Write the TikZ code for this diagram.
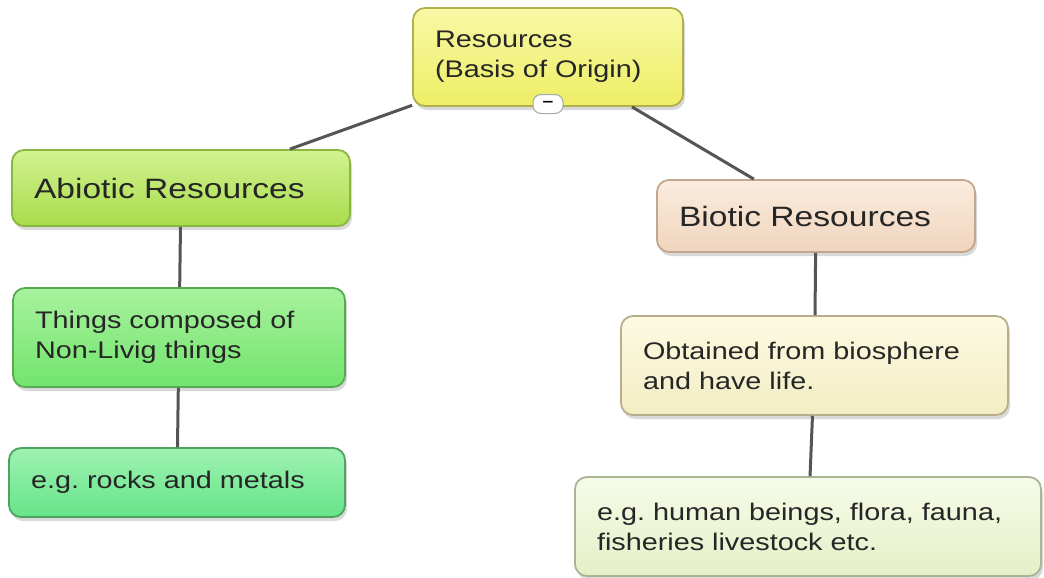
\documentclass[tikz,border=0pt]{standalone}
\usepackage{fontspec}
\setmainfont{Liberation Sans}[FakeStretch=1.2]
\usetikzlibrary{shadows}

\definecolor{txtgray}{HTML}{262626}
\definecolor{linkgray}{HTML}{555555}
% fills (top / bottom) and borders
\definecolor{resTop}{HTML}{F8F8A6}\definecolor{resBot}{HTML}{EEEE66}\definecolor{resLine}{HTML}{B0B04C}
\definecolor{abioTop}{HTML}{D2F290}\definecolor{abioBot}{HTML}{A8DC4C}\definecolor{abioLine}{HTML}{88B840}
\definecolor{thinTop}{HTML}{A8F29E}\definecolor{thinBot}{HTML}{72E46C}\definecolor{thinLine}{HTML}{56AA50}
\definecolor{rockTop}{HTML}{9EF2B2}\definecolor{rockBot}{HTML}{66E488}\definecolor{rockLine}{HTML}{4EA262}
\definecolor{bioTop}{HTML}{FBECDF}\definecolor{bioBot}{HTML}{F0D5BD}\definecolor{bioLine}{HTML}{C2A68E}
\definecolor{obtTop}{HTML}{FCFAE2}\definecolor{obtBot}{HTML}{F3EDC4}\definecolor{obtLine}{HTML}{B8AE8E}
\definecolor{humTop}{HTML}{F6FBE8}\definecolor{humBot}{HTML}{E4F0C8}\definecolor{humLine}{HTML}{AAB594}

\begin{document}
\frenchspacing
\begin{tikzpicture}[x=1pt, y=-1pt,
    box/.style={draw, rounded corners=12pt, line width=1.8pt, align=left,
        inner xsep=22pt, inner ysep=0pt, text=txtgray,
        font=\fontsize{24}{30}\selectfont,
        drop shadow={shadow xshift=2pt, shadow yshift=-4pt, opacity=0.3}},
    head/.style={box, font=\fontsize{28}{34}\selectfont},
    link/.style={draw=linkgray, line width=3pt},
    toggle/.style={draw=gray!70, fill=white, rounded corners=8pt, line width=1pt,
        minimum width=30pt, minimum height=19pt, inner sep=0pt,
        font=\fontsize{16}{16}\selectfont\bfseries}]
    \useasboundingbox (0,0) rectangle (1044,578);

    % Root
    \node[box, top color=resTop, bottom color=resBot, draw=resLine,
          text width=226pt, minimum height=98pt] (res) at (548,57) {Resources\\(Basis of Origin)};

    % Left branch
    \node[head, top color=abioTop, bottom color=abioBot, draw=abioLine,
          text width=294pt, minimum height=76pt] (abio) at (181,188) {Abiotic Resources};
    \node[box, top color=thinTop, bottom color=thinBot, draw=thinLine,
          text width=288pt, minimum height=99pt] (things) at (179,337.5) {Things composed of\\Non-Livig things};
    \node[box, top color=rockTop, bottom color=rockBot, draw=rockLine,
          text width=292pt, minimum height=69pt] (rocks) at (177,482.5) {e.g. rocks and metals};

    % Right branch
    \node[head, top color=bioTop, bottom color=bioBot, draw=bioLine,
          text width=274pt, minimum height=72pt] (bio) at (816,216) {Biotic Resources};
    \node[box, top color=obtTop, bottom color=obtBot, draw=obtLine,
          text width=343pt, minimum height=99pt] (obt) at (814.5,365.5) {Obtained from biosphere\\and have life.};
    \node[box, top color=humTop, bottom color=humBot, draw=humLine,
          text width=422pt, minimum height=99pt] (human) at (808,526.5) {e.g. human beings, flora, fauna,\\fisheries livestock etc.};

    \path[link] (res) -- (abio);
    \path[link] (res) -- (bio);
    \path[link] (abio) -- (things);
    \path[link] (things) -- (rocks);
    \path[link] (bio) -- (obt);
    \path[link] (obt) -- (human);

    \node[toggle] (tgl) at (548,104) {–};
\end{tikzpicture}
\end{document}
